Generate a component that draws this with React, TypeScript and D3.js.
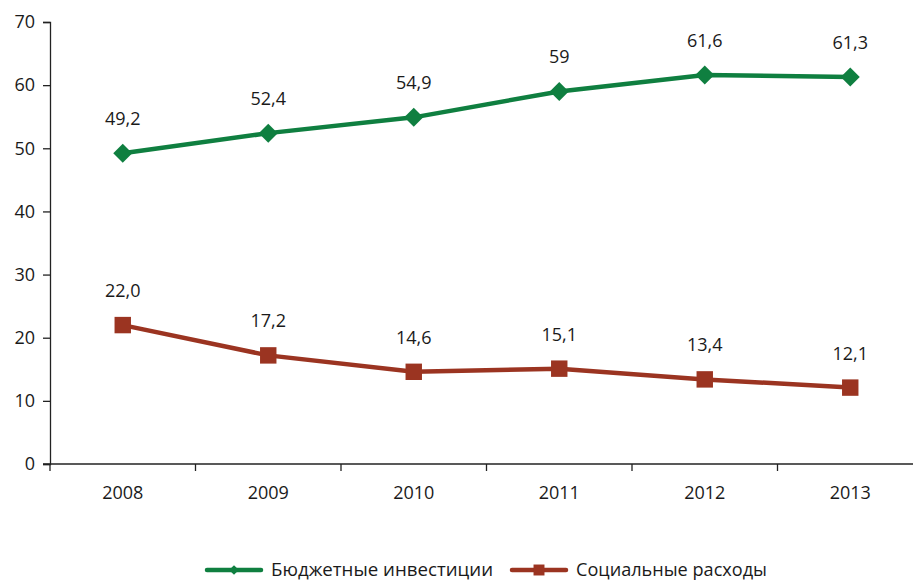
import { useEffect, useRef } from "react";
import * as d3 from "d3";

const years = ["2008", "2009", "2010", "2011", "2012", "2013"];
const investments = [49.2, 52.4, 54.9, 59, 61.6, 61.3];
const investmentLabels = ["49,2", "52,4", "54,9", "59", "61,6", "61,3"];
const social = [22.0, 17.2, 14.6, 15.1, 13.4, 12.1];
const socialLabels = ["22,0", "17,2", "14,6", "15,1", "13,4", "12,1"];
const yTicks = [0, 10, 20, 30, 40, 50, 60, 70];
const seriesNames = ["Бюджетные инвестиции", "Социальные расходы"];

const GREEN = "#0f7f40";
const RED = "#9b3421";
const FONT = "'Open Sans', 'Noto Sans', sans-serif";
const FS = "18px";

export default function App() {
  const svgRef = useRef<SVGSVGElement | null>(null);

  useEffect(() => {
    document.body.style.margin = "0";
    const width = 913;
    const height = 581;
    const margin = { top: 22, left: 50, right: -10, bottom: 117 };

    const svg = d3.select(svgRef.current)
      .attr("width", width)
      .attr("height", height)
      .style("display", "block")
      .style("background", "#fff");
    svg.selectAll("*").remove();

    const x = d3.scaleBand()
      .domain(years)
      .range([margin.left, width - margin.right]);

    const y = d3.scaleLinear()
      .domain([0, 70])
      .range([height - margin.bottom, margin.top]);

    const axisColor = "#222";

    // y axis
    const gy = svg.append("g")
      .attr("transform", `translate(${margin.left},0)`)
      .call(d3.axisLeft(y).tickValues(yTicks).tickSize(7).tickPadding(8));
    gy.select(".domain").attr("stroke", axisColor).attr("stroke-width", 1.3);
    gy.selectAll(".tick line").attr("stroke", axisColor).attr("stroke-width", 1.3);
    gy.selectAll(".tick text")
      .attr("fill", "#1a1a1a")
      .style("font-family", FONT)
      .style("font-size", FS);

    // x axis with ticks between categories
    const gx = svg.append("g")
      .attr("transform", `translate(0,${y(0)})`);
    gx.append("line")
      .attr("x1", margin.left - 7).attr("x2", width)
      .attr("stroke", axisColor).attr("stroke-width", 1.3);
    const bounds = years.slice(1).map(d => x(d)!);
    gx.selectAll("line.tk")
      .data([margin.left, ...bounds])
      .join("line")
      .attr("class", "tk")
      .attr("x1", d => d).attr("x2", d => d)
      .attr("y1", 0).attr("y2", 7)
      .attr("stroke", axisColor).attr("stroke-width", 1.3);
    gx.selectAll("text")
      .data(years)
      .join("text")
      .attr("x", d => x(d)! + x.bandwidth() / 2)
      .attr("y", 35)
      .attr("text-anchor", "middle")
      .attr("fill", "#1a1a1a")
      .style("font-family", FONT)
      .style("font-size", FS)
      .text(d => d);

    const cx = (i: number) => x(years[i])! + x.bandwidth() / 2;

    const line = d3.line<number>()
      .x((_, i) => cx(i))
      .y(d => y(d));

    const diamond = d3.symbol().type(d3.symbolDiamond2).size(230);
    const square = d3.symbol().type(d3.symbolSquare).size(270);

    const drawSeries = (vals: number[], labels: string[], color: string, sym: any) => {
      svg.append("path")
        .datum(vals)
        .attr("fill", "none")
        .attr("stroke", color)
        .attr("stroke-width", 4.5)
        .attr("d", line);
      svg.append("g")
        .selectAll("path")
        .data(vals)
        .join("path")
        .attr("transform", (d, i) => `translate(${cx(i)},${y(d)})`)
        .attr("d", sym)
        .attr("fill", color);
      svg.append("g")
        .selectAll("text")
        .data(vals)
        .join("text")
        .attr("x", (_, i) => cx(i))
        .attr("y", d => y(d) - 28)
        .attr("text-anchor", "middle")
        .attr("fill", "#1a1a1a")
        .style("font-family", FONT)
        .style("font-size", FS)
        .text((_, i) => labels[i]);
    };

    drawSeries(investments, investmentLabels, GREEN, diamond);
    drawSeries(social, socialLabels, RED, square);

    // legend
    const legend = [
      { name: seriesNames[0], color: GREEN, x0: 207, len: 222, sym: d3.symbol().type(d3.symbolDiamond2).size(60) },
      { name: seriesNames[1], color: RED, x0: 512, len: 191, sym: d3.symbol().type(d3.symbolSquare).size(120) },
    ];
    const lg = svg.append("g").attr("transform", "translate(0,570)");
    legend.forEach(l => {
      lg.append("line")
        .attr("x1", l.x0).attr("x2", l.x0 + 54)
        .attr("stroke", l.color).attr("stroke-width", 4.5)
        .attr("stroke-linecap", "round");
      lg.append("path")
        .attr("transform", `translate(${l.x0 + 27},0)`)
        .attr("d", l.sym as any)
        .attr("fill", l.color);
      lg.append("text")
        .attr("x", l.x0 + 64)
        .attr("y", 6)
        .attr("fill", "#1a1a1a")
        .attr("textLength", l.len)
        .attr("lengthAdjust", "spacingAndGlyphs")
        .style("font-family", FONT)
        .style("font-size", FS)
        .text(l.name);
    });
  }, []);

  return <svg ref={svgRef}></svg>;
}
